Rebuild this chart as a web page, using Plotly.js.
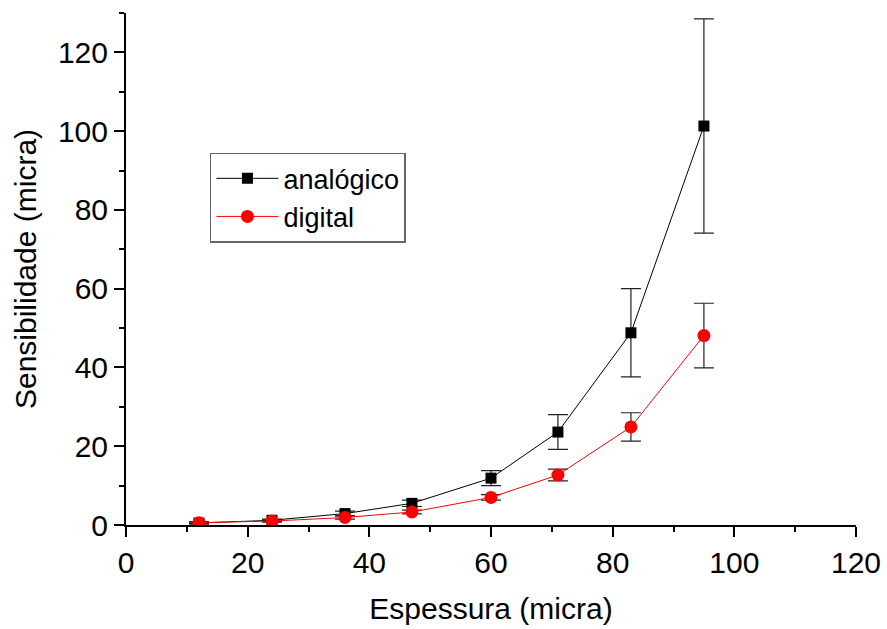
<!DOCTYPE html>
<html>
<head>
<meta charset="utf-8">
<script src="https://cdn.plot.ly/plotly-3.0.1.min.js"></script>
<style>html,body{margin:0;padding:0;background:#fff;}#chart{width:887px;height:629px;}</style>
</head>
<body>
<div id="chart"></div>
<script>
// Espessura (micra)
const espessura = [12, 24, 36, 47, 60, 71, 83, 95];
// analógico
const analogico = [0.5, 1.2, 2.9, 5.5, 11.9, 23.6, 48.8, 101.3];
const analogicoErr = [0.3, 0.3, 0.6, 0.8, 1.9, 4.4, 11.2, 27.2];
// digital
const digital = [0.6, 1.0, 1.9, 3.3, 7.0, 12.7, 24.9, 48.1];
const digitalErr = [0.2, 0.3, 0.4, 0.5, 0.7, 1.5, 3.6, 8.2];

const font = "Liberation Sans, Arial, Helvetica, sans-serif";

const traces = [
  {
    x: espessura, y: analogico, name: 'analógico', type: 'scatter', mode: 'lines+markers',
    line: {color: '#000000', width: 1},
    marker: {symbol: 'square', size: 11, color: '#000000'},
    error_y: {type: 'data', array: analogicoErr, visible: true, color: '#222222', thickness: 1.2, width: 10}
  },
  {
    x: espessura, y: digital, name: 'digital', type: 'scatter', mode: 'lines+markers',
    line: {color: '#ff0000', width: 1},
    marker: {symbol: 'circle', size: 13, color: '#ff0000'},
    error_y: {type: 'data', array: digitalErr, visible: true, color: '#222222', thickness: 1.2, width: 10}
  }
];

const layout = {
  width: 887, height: 629,
  margin: {l: 126, r: 31, t: 13, b: 104},
  paper_bgcolor: '#ffffff', plot_bgcolor: '#ffffff',
  font: {family: font, color: '#000000', size: 30},
  showlegend: true,
  legend: {
    x: 0.115, y: 0.727, xanchor: 'left', yanchor: 'top',
    bgcolor: '#ffffff', bordercolor: '#666666', borderwidth: 1.5,
    font: {family: font, size: 27, color: '#000000'},
    tracegroupgap: 0, itemwidth: 62
  },
  xaxis: {
    range: [0, 120], dtick: 20, tick0: 0,
    showgrid: false, zeroline: false,
    showline: true, linecolor: '#000000', linewidth: 2,
    ticks: 'outside', ticklen: 10, tickwidth: 2, tickcolor: '#000000',
    minor: {dtick: 10, ticks: 'outside', ticklen: 5, tickwidth: 2, tickcolor: '#000000', showgrid: false},
    tickfont: {family: font, size: 30, color: '#000000'},
    title: {text: 'Espessura (micra)', font: {family: font, size: 30, color: '#000000'}, standoff: 20}
  },
  yaxis: {
    range: [0, 130], dtick: 20, tick0: 0,
    showgrid: false, zeroline: false,
    showline: true, linecolor: '#000000', linewidth: 2,
    ticks: 'outside', ticklen: 10, tickwidth: 2, tickcolor: '#000000',
    minor: {dtick: 10, ticks: 'outside', ticklen: 5, tickwidth: 2, tickcolor: '#000000', showgrid: false},
    tickfont: {family: font, size: 30, color: '#000000'},
    title: {text: 'Sensibilidade (micra)', font: {family: font, size: 30, color: '#000000'}, standoff: 12}
  }
};

Plotly.newPlot('chart', traces, layout, {displayModeBar: false, staticPlot: true});
</script>
</body>
</html>
